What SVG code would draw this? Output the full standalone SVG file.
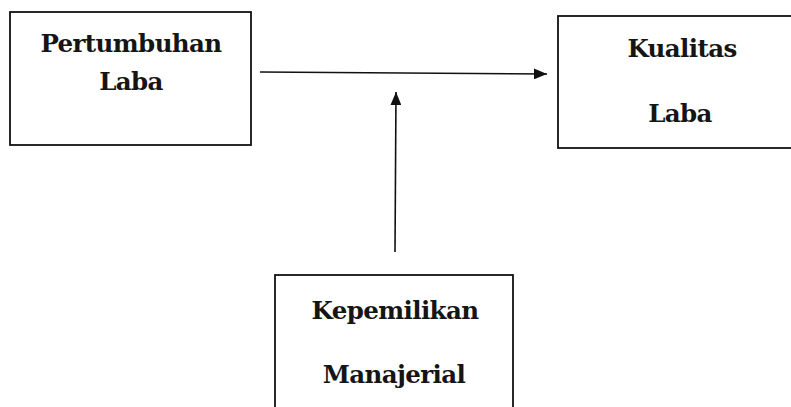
<svg xmlns="http://www.w3.org/2000/svg" width="791" height="407" viewBox="0 0 791 407">
  <style>
    .box { fill: #ffffff; stroke: #111111; stroke-width: 1.8; }
    .lbl { font-family: 'DejaVu Serif', serif; font-weight: 700; font-size: 24.5px; letter-spacing: -0.6px; fill: #151515; text-anchor: middle; }
    .conn { stroke: #111111; stroke-width: 1.6; fill: none; marker-end: url(#arrow); }
  </style>
  <defs>
    <marker id="arrow" viewBox="0 0 12 10" refX="12" refY="5" markerWidth="13" markerHeight="11" markerUnits="userSpaceOnUse" orient="auto">
      <path d="M0,0 L12,5 L0,10 z" fill="#111111"/>
    </marker>
  </defs>
  <rect x="0" y="0" width="791" height="407" fill="#ffffff"/>
  <g id="pertumbuhan-laba">
    <rect class="box" x="10" y="12" width="241" height="133"/>
    <text class="lbl" x="131" y="52">Pertumbuhan</text>
    <text class="lbl" x="131" y="90">Laba</text>
  </g>
  <g id="kualitas-laba">
    <rect class="box" x="558" y="16" width="250" height="132"/>
    <text class="lbl" x="682" y="57">Kualitas</text>
    <text class="lbl" x="680" y="122">Laba</text>
  </g>
  <g id="kepemilikan-manajerial">
    <rect class="box" x="275" y="275" width="238" height="150"/>
    <text class="lbl" x="395" y="319">Kepemilikan</text>
    <text class="lbl" x="394" y="383">Manajerial</text>
  </g>
  <g id="connectors">
    <line class="conn" x1="260" y1="72" x2="547" y2="74"/>
    <line class="conn" x1="395" y1="252" x2="396" y2="92"/>
  </g>
</svg>
